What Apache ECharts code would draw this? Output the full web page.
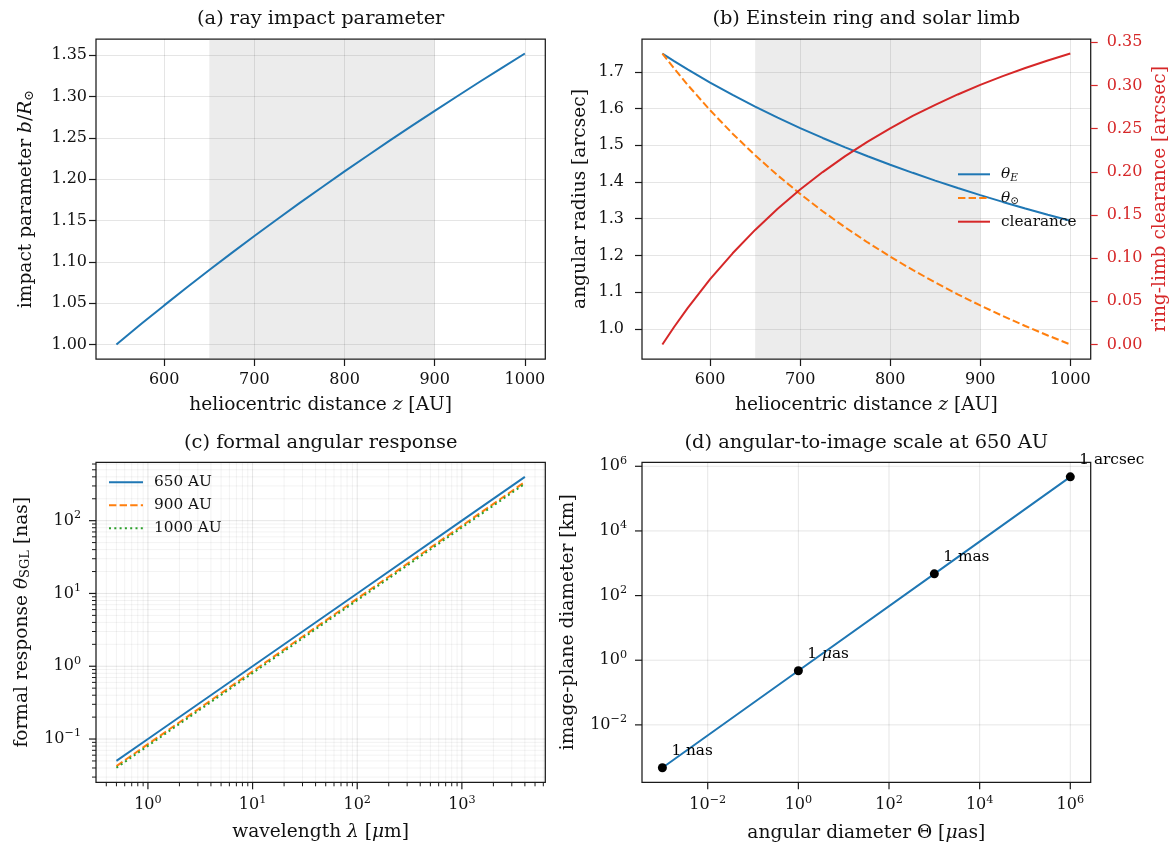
<!DOCTYPE html>
<html>
<head>
<meta charset="utf-8">
<script src="https://cdn.jsdelivr.net/npm/echarts@6/dist/echarts.min.js"></script>
<style>
  html, body { margin: 0; padding: 0; background: #ffffff; }
  #chart { width: 1172px; height: 844px; }
</style>
</head>
<body>
<div id="chart"></div>
<script>
// ---- (a)/(b): quantities versus heliocentric distance [AU] ----
const zAU        = [547, 560, 575, 600, 625, 650, 675, 700, 725, 750, 775, 800, 825, 850, 875, 900, 925, 950, 975, 1000];
const impactB    = [1.0000, 1.0118, 1.0253, 1.0473, 1.0689, 1.0901, 1.1109, 1.1312, 1.1513, 1.1710, 1.1903, 1.2094, 1.2281, 1.2466, 1.2648, 1.2827, 1.3004, 1.3179, 1.3351, 1.3521];
const thetaE     = [1.7500, 1.7296, 1.7068, 1.6710, 1.6372, 1.6054, 1.5753, 1.5470, 1.5200, 1.4945, 1.4702, 1.4470, 1.4250, 1.4038, 1.3836, 1.3643, 1.3457, 1.3279, 1.3108, 1.2943];
const thetaSun   = [1.7500, 1.7094, 1.6648, 1.5954, 1.5316, 1.4727, 1.4181, 1.3675, 1.3203, 1.2763, 1.2352, 1.1966, 1.1603, 1.1262, 1.0940, 1.0636, 1.0349, 1.0076, 0.9818, 0.9573];
const clearance  = [0.0000, 0.0202, 0.0420, 0.0756, 0.1056, 0.1327, 0.1572, 0.1795, 0.1997, 0.2182, 0.2350, 0.2504, 0.2647, 0.2776, 0.2896, 0.3007, 0.3108, 0.3203, 0.3290, 0.3370];
const bandAU     = [650, 900];

// ---- (c): formal angular response versus wavelength ----
const lambdaUm   = [0.5, 1, 10, 100, 1000, 4000];
const resp650    = [0.050, 0.100, 1.00, 10.0, 100.0, 400];
const resp900    = [0.0425, 0.085, 0.850, 8.50, 85.0, 340];
const resp1000   = [0.0403, 0.0806, 0.806, 8.06, 80.6, 322];
const respNames  = ['650 AU', '900 AU', '1000 AU'];

// ---- (d): angular diameter [uas] -> image-plane diameter [km] at 650 AU ----
const angUas     = [1e-3, 1, 1e3, 1e6];
const imageKm    = [4.714e-4, 0.4714, 471.4, 4.714e5];
const angLabels  = ['1 nas', '1 {i|\u03bc}as', '1 mas', '1 arcsec'];

// ---- tick values ----
const zTicks     = [600, 700, 800, 900, 1000];
const bTicks     = [1.00, 1.05, 1.10, 1.15, 1.20, 1.25, 1.30, 1.35];
const angTicks   = [1.0, 1.1, 1.2, 1.3, 1.4, 1.5, 1.6, 1.7];
const clrTicks   = [0.00, 0.05, 0.10, 0.15, 0.20, 0.25, 0.30, 0.35];
const lamDec     = [0, 1, 2, 3];
const respDec    = [-1, 0, 1, 2];
const angDec     = [-2, 0, 2, 4, 6];
const kmDec      = [-2, 0, 2, 4, 6];

const FONT = '"DejaVu Serif", serif';
const INK = '#111111';
const SPINE = '#1a1a1a';
const GRID_MAJOR = 'rgba(0,0,0,0.10)';
const GRID_MINOR = 'rgba(0,0,0,0.05)';
const BLUE = '#1f77b4', ORANGE = '#ff7f0e', GREEN = '#2ca02c', RED = '#d62728';
const TICK_FS = 16, NAME_FS = 18.6, TITLE_FS = 19.4, LEG_FS = 15.3;

const grids = [
  { left: 96,  top: 39,    width: 449.3, height: 320 },
  { left: 642, top: 39,    width: 448.7, height: 320 },
  { left: 96,  top: 462.3, width: 449.3, height: 320 },
  { left: 642, top: 462.3, width: 448.7, height: 320 }
].map(g => Object.assign(g, {
  show: true, borderColor: SPINE, borderWidth: 1.25, backgroundColor: 'transparent',
  containLabel: false, outerBoundsMode: 'none'
}));

const nameRich = (color) => ({
  i:   { fontStyle: 'italic', fontFamily: FONT, fontSize: NAME_FS, color: color },
  sub: { fontFamily: FONT, fontSize: 13, color: color, verticalAlign: 'bottom', lineHeight: 14 }
});
const nameStyle = (color) => ({ fontFamily: FONT, fontSize: NAME_FS, color: color, rich: nameRich(color) });

const powRich = {
  b: { fontFamily: FONT, fontSize: TICK_FS, color: INK, lineHeight: 22 },
  s: { fontFamily: FONT, fontSize: 11.2, color: INK, lineHeight: 12, verticalAlign: 'top' }
};
function decadeLabel(shown) {
  return function (v) {
    const e = Math.log10(v), k = Math.round(e);
    if (Math.abs(e - k) > 1e-6 || shown.indexOf(k) < 0) return '';
    return '{b|10}{s|' + (k < 0 ? '\u2212' + (-k) : k) + '}';
  };
}

function linAxis(o) {
  const color = o.color || INK;
  return {
    type: 'value', gridIndex: o.grid, position: o.position, min: o.min, max: o.max,
    axisLine: { show: false, onZero: false },
    axisTick: { show: true, inside: false, length: 7, customValues: o.ticks,
                lineStyle: { color: o.tickColor || SPINE, width: 1.2 } },
    axisLabel: { customValues: o.ticks, margin: o.margin, color: color, fontFamily: FONT,
                 fontSize: TICK_FS, formatter: v => v.toFixed(o.digits) },
    splitLine: { show: o.grid_lines !== false, lineStyle: { color: GRID_MAJOR, width: 1 } },
    name: o.name, nameLocation: 'middle', nameGap: o.nameGap, nameTextStyle: nameStyle(color)
  };
}
function logAxis(o) {
  return {
    type: 'log', logBase: 10, gridIndex: o.grid, min: Math.pow(10, o.lo), max: Math.pow(10, o.hi),
    splitNumber: 10,
    axisLine: { show: false, onZero: false }, axisTick: { show: false }, splitLine: { show: false },
    minorTick: { show: false },
    axisLabel: { margin: o.margin, formatter: decadeLabel(o.shown), rich: powRich, color: INK,
                 fontFamily: FONT, fontSize: TICK_FS },
    name: o.name, nameLocation: 'middle', nameGap: o.nameGap, nameTextStyle: nameStyle(INK)
  };
}

// minor decade ticks (2..9 x 10^k) inside an exponent range
function minorValues(lo, hi) {
  const out = [];
  for (let k = Math.floor(lo); k <= Math.ceil(hi); k++) {
    for (let m = 2; m <= 9; m++) {
      const v = m * Math.pow(10, k), e = Math.log10(v);
      if (e >= lo && e <= hi) out.push(v);
    }
  }
  return out;
}

// ticks and grid lines of a log-log panel, placed through the panel's axes
function logFrame(xi, yi, spec) {
  return {
    type: 'custom', coordinateSystem: 'cartesian2d', xAxisIndex: xi, yAxisIndex: yi,
    z: 1, silent: true, clip: false, animation: false,
    data: [[spec.refX, spec.refY]],
    renderItem: function (params, api) {
      const cs = params.coordSys;
      const left = cs.x, top = cs.y, right = cs.x + cs.width, bottom = cs.y + cs.height;
      const kids = [];
      const seg = (x1, y1, x2, y2, stroke, w) =>
        kids.push({ type: 'line', silent: true, shape: { x1, y1, x2, y2 }, style: { stroke: stroke, lineWidth: w } });
      const px = v => api.coord([v, spec.refY])[0];
      const py = v => api.coord([spec.refX, v])[1];
      spec.xMinor.forEach(v => {
        const x = px(v);
        if (spec.minorGrid) seg(x, top, x, bottom, GRID_MINOR, 1);
        seg(x, bottom, x, bottom + 4, SPINE, 1);
      });
      spec.yMinor.forEach(v => {
        const y = py(v);
        if (spec.minorGrid) seg(left, y, right, y, GRID_MINOR, 1);
        seg(left - 4, y, left, y, SPINE, 1);
      });
      spec.xMajor.forEach(k => {
        const x = px(Math.pow(10, k));
        seg(x, top, x, bottom, GRID_MAJOR, 1);
        seg(x, bottom, x, bottom + 7, SPINE, 1.2);
      });
      spec.yMajor.forEach(k => {
        const y = py(Math.pow(10, k));
        seg(left, y, right, y, GRID_MAJOR, 1);
        seg(left - 7, y, left, y, SPINE, 1.2);
      });
      return { type: 'group', children: kids };
    }
  };
}

const pairs = (xs, ys) => xs.map((x, i) => [x, ys[i]]);
const lineSeries = (name, xi, yi, xs, ys, color, dash, z) => ({
  name: name, type: 'line', xAxisIndex: xi, yAxisIndex: yi, data: pairs(xs, ys),
  symbol: 'none', showSymbol: false, smooth: false, z: z || 3, animation: false,
  lineStyle: { color: color, width: 2, type: dash || 'solid' }, itemStyle: { color: color }
});
const shadeBand = { silent: true, itemStyle: { color: 'rgba(128,128,128,0.15)' },
                    data: [[{ xAxis: bandAU[0] }, { xAxis: bandAU[1] }]] };

// exponent limits of the log panels
const cX = [-0.4962, 3.7972], cY = [-1.5945, 2.8019];
const dX = [-3.45, 6.45],     dY = [-3.7766, 6.1234];

const xAxes = [
  linAxis({ grid: 0, min: 524.35, max: 1022.65, ticks: zTicks, digits: 0, margin: 13,
            name: 'heliocentric distance {i|z} [AU]', nameGap: 37 }),
  linAxis({ grid: 1, min: 524.35, max: 1022.65, ticks: zTicks, digits: 0, margin: 13,
            name: 'heliocentric distance {i|z} [AU]', nameGap: 37 }),
  logAxis({ grid: 2, lo: cX[0], hi: cX[1], shown: lamDec, margin: 12,
            name: 'wavelength {i|\u03bb} [{i|\u03bc}m]', nameGap: 40 }),
  logAxis({ grid: 3, lo: dX[0], hi: dX[1], shown: angDec, margin: 12,
            name: 'angular diameter \u0398 [{i|\u03bc}as]', nameGap: 41 })
];
const yAxes = [
  linAxis({ grid: 0, position: 'left', min: 0.98245, max: 1.36965, ticks: bTicks, digits: 2, margin: 9,
            name: 'impact parameter {i|b}/{i|R}{sub|\u2299}', nameGap: 60 }),
  linAxis({ grid: 1, position: 'left', min: 0.91765, max: 1.78965, ticks: angTicks, digits: 1, margin: 18,
            name: 'angular radius [arcsec]', nameGap: 52 }),
  linAxis({ grid: 1, position: 'right', min: -0.01685, max: 0.35385, ticks: clrTicks, digits: 2, margin: 16,
            color: RED, tickColor: RED, grid_lines: false,
            name: 'ring-limb clearance [arcsec]', nameGap: 60 }),
  logAxis({ grid: 2, lo: cY[0], hi: cY[1], shown: respDec, margin: 15,
            name: 'formal response {i|\u03b8}{sub|SGL} [nas]', nameGap: 64 }),
  logAxis({ grid: 3, lo: dY[0], hi: dY[1], shown: kmDec, margin: 15,
            name: 'image-plane diameter [km]', nameGap: 64 })
];

const legendText = { fontFamily: FONT, fontSize: LEG_FS, color: INK, lineHeight: 18, padding: [0, 0, 0, 6],
  rich: {
    i:  { fontFamily: FONT, fontSize: LEG_FS, fontStyle: 'italic', color: INK },
    s:  { fontFamily: FONT, fontSize: 10.5, fontStyle: 'italic', color: INK, verticalAlign: 'bottom', lineHeight: 12 },
    s0: { fontFamily: FONT, fontSize: 10.5, color: INK, verticalAlign: 'bottom', lineHeight: 12 }
  } };
const legendNamesB = { thetaE: '{i|\u03b8}{s|E}', thetaSun: '{i|\u03b8}{s0|\u2299}', clearance: 'clearance' };
// line-only keys: the key marker is made fully transparent
const keyMarker = { color: 'rgba(0,0,0,0)', borderWidth: 0, opacity: 0 };

const titles = [
  ['(a) ray impact parameter', 320.7, 18.5],
  ['(b) Einstein ring and solar limb', 866.3, 18.5],
  ['(c) formal angular response', 320.7, 442.5],
  ['(d) angular-to-image scale at 650 AU', 866.3, 442.5]
].map(t => ({
  type: 'text', x: t[1], y: t[2], silent: true,
  style: { text: t[0], fill: INK, font: TITLE_FS + 'px ' + FONT, align: 'center', verticalAlign: 'middle',
           textAlign: 'center', textVerticalAlign: 'middle' }
}));

const series = [
  // (a)
  Object.assign(lineSeries('b/R', 0, 0, zAU, impactB, BLUE), { markArea: shadeBand }),
  // (b)
  Object.assign(lineSeries('thetaE', 1, 1, zAU, thetaE, BLUE), { markArea: shadeBand }),
  lineSeries('thetaSun', 1, 1, zAU, thetaSun, ORANGE, [7.4, 3.2]),
  lineSeries('clearance', 1, 2, zAU, clearance, RED),
  // (c)
  logFrame(2, 3, { refX: 1, refY: 1, minorGrid: true,
                   xMajor: lamDec, yMajor: respDec,
                   xMinor: minorValues(cX[0], cX[1]), yMinor: minorValues(cY[0], cY[1]) }),
  lineSeries(respNames[0], 2, 3, lambdaUm, resp650, BLUE),
  lineSeries(respNames[1], 2, 3, lambdaUm, resp900, ORANGE, [7.4, 3.2]),
  lineSeries(respNames[2], 2, 3, lambdaUm, resp1000, GREEN, [2, 3.3]),
  // (d)
  logFrame(3, 4, { refX: 1, refY: 1, minorGrid: false,
                   xMajor: angDec, yMajor: kmDec, xMinor: [], yMinor: [] }),
  lineSeries('scale', 3, 4, angUas, imageKm, BLUE),
  {
    name: 'marks', type: 'scatter', xAxisIndex: 3, yAxisIndex: 4, z: 4, animation: false,
    data: pairs(angUas, imageKm), symbol: 'circle', symbolSize: 9,
    itemStyle: { color: '#000000', opacity: 1 },
    label: {
      show: true, position: 'right', distance: 0, offset: [4.5, -16.5], align: 'left',
      fontFamily: FONT, fontSize: LEG_FS, color: '#000000', textBorderWidth: 0,
      formatter: p => angLabels[p.dataIndex],
      rich: { i: { fontFamily: FONT, fontSize: LEG_FS, fontStyle: 'italic', color: '#000000' } }
    }
  }
];

const chart = echarts.init(document.getElementById('chart'), null, { renderer: 'canvas' });
chart.setOption({
  backgroundColor: '#ffffff',
  animation: false,
  textStyle: { fontFamily: FONT },
  grid: grids,
  xAxis: xAxes,
  yAxis: yAxes,
  graphic: titles,
  legend: [
    { data: ['thetaE', 'thetaSun', 'clearance'], orient: 'vertical', left: 957, top: 165.3, padding: 0,
      itemWidth: 32, itemHeight: 14, itemGap: 5.7, selectedMode: false, itemStyle: keyMarker,
      formatter: n => legendNamesB[n], textStyle: legendText },
    { data: respNames, orient: 'vertical', left: 108, top: 473.3, padding: 0,
      itemWidth: 34, itemHeight: 14, itemGap: 5, selectedMode: false, itemStyle: keyMarker,
      textStyle: legendText }
  ],
  series: series
});
</script>
</body>
</html>
